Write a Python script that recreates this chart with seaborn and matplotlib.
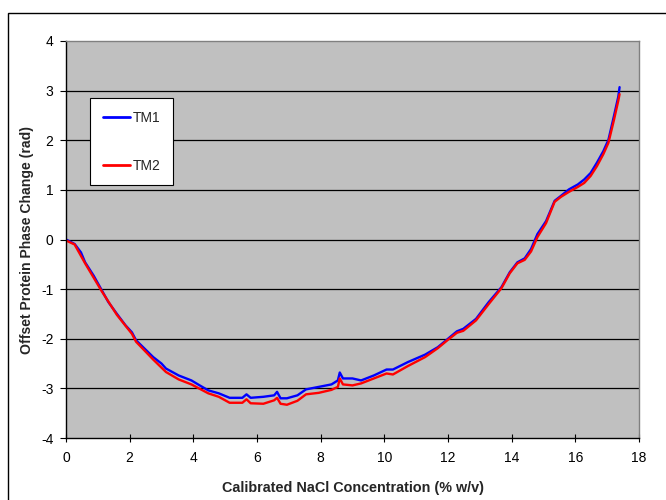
import numpy as np
import pandas as pd
import matplotlib
matplotlib.use("Agg")
import matplotlib.pyplot as plt
from matplotlib.patches import Rectangle
import seaborn as sns

tm1_x = [0, 0.27, 0.47, 0.6, 0.87, 1.13, 1.33, 1.6, 1.87, 2.07, 2.2, 2.47, 2.74, 3.0, 3.14,
         3.54, 3.94, 4.2, 4.47, 4.8, 5.14, 5.54, 5.67, 5.8, 6.2, 6.54, 6.63, 6.74, 6.94, 7.27,
         7.54, 7.94, 8.34, 8.54, 8.6, 8.7, 9.0, 9.27, 9.67, 10.07, 10.27, 10.74, 11.28, 11.68,
         12.0, 12.28, 12.48, 12.88, 13.28, 13.68, 13.94, 14.18, 14.41, 14.61, 14.81, 15.08,
         15.35, 15.55, 15.8, 16.08, 16.28, 16.48, 16.68, 16.88, 17.04, 17.21, 17.35, 17.39]
tm1_y = [0, -0.09, -0.26, -0.46, -0.73, -1.03, -1.26, -1.50, -1.73, -1.87, -2.03, -2.20, -2.37,
         -2.50, -2.60, -2.74, -2.84, -2.94, -3.04, -3.10, -3.19, -3.19, -3.12, -3.19, -3.17,
         -3.14, -3.07, -3.20, -3.20, -3.14, -3.02, -2.97, -2.92, -2.84, -2.68, -2.80, -2.80,
         -2.84, -2.74, -2.62, -2.62, -2.47, -2.32, -2.17, -2.0, -1.85, -1.80, -1.60, -1.26,
         -0.96, -0.66, -0.46, -0.38, -0.19, 0.11, 0.37, 0.78, 0.88, 1.01, 1.11, 1.21, 1.34,
         1.55, 1.78, 2.01, 2.48, 2.88, 3.07]

tm2_x = [0, 0.27, 0.6, 1.13, 1.6, 2.07, 2.2, 2.74, 3.14, 3.54, 3.94, 4.47, 4.8, 5.14, 5.54,
         5.67, 5.8, 6.2, 6.54, 6.63, 6.74, 6.94, 7.27, 7.54, 7.94, 8.34, 8.54, 8.6, 8.7, 9.0,
         9.27, 9.67, 10.07, 10.27, 10.74, 11.28, 11.68, 12.0, 12.28, 12.48, 12.88, 13.28, 13.68,
         13.94, 14.18, 14.41, 14.61, 14.81, 15.08, 15.35, 15.55, 15.8, 16.08, 16.28, 16.48,
         16.68, 16.88, 17.04, 17.21, 17.35, 17.39]
tm2_y = [-0.02, -0.10, -0.48, -1.05, -1.52, -1.90, -2.06, -2.42, -2.67, -2.82, -2.92, -3.10,
         -3.17, -3.29, -3.29, -3.22, -3.30, -3.31, -3.24, -3.19, -3.31, -3.33, -3.25, -3.12,
         -3.09, -3.03, -2.97, -2.80, -2.92, -2.94, -2.90, -2.80, -2.70, -2.72, -2.55, -2.37,
         -2.19, -2.02, -1.88, -1.84, -1.63, -1.30, -0.98, -0.68, -0.48, -0.41, -0.24, 0.05,
         0.33, 0.76, 0.86, 0.96, 1.06, 1.14, 1.28, 1.48, 1.72, 1.95, 2.40, 2.80, 2.93]

series_names = ["TM1", "TM2"]
colors = ["#0000FF", "#FF0000"]
x_ticks = list(range(0, 19, 2))
y_ticks = list(range(-4, 5, 1))

df = pd.concat([
    pd.DataFrame({"x": tm1_x, "y": tm1_y, "series": series_names[0]}),
    pd.DataFrame({"x": tm2_x, "y": tm2_y, "series": series_names[1]}),
], ignore_index=True)

sns.set_theme(style="white")
plt.rcParams["font.family"] = ["Liberation Sans", "DejaVu Sans"]

fig = plt.figure(figsize=(6.66, 5.0), dpi=100)
ax = fig.add_axes([66/666, 1-438/500, (639-66)/666, (438-41)/500])
ax.set_facecolor("#C0C0C0")

sns.lineplot(data=df, x="x", y="y", hue="series", palette=dict(zip(series_names, colors)),
             estimator=None, sort=False, linewidth=1.7, ax=ax)

ax.set_xlim(0, 18)
ax.set_ylim(-4, 4)
ax.set_xticks(x_ticks)
ax.set_yticks(y_ticks)
ax.set_xticklabels([str(t) for t in x_ticks])
ax.set_yticklabels([str(t) for t in y_ticks])
for t in y_ticks[1:-1]:
    ax.axhline(t, color="black", linewidth=0.9, zorder=1)
ax.tick_params(axis="x", direction="inout", length=6, width=0.8, colors="black", labelsize=10, pad=6)
ax.tick_params(axis="y", direction="out", length=4, width=0.8, colors="black", labelsize=10, pad=5)
ax.tick_params(left=True, bottom=True)
for s in ["left", "bottom"]:
    ax.spines[s].set_color("black")
    ax.spines[s].set_linewidth(1.0)
for s in ["top", "right"]:
    ax.spines[s].set_color("#808080")
    ax.spines[s].set_linewidth(1.0)

ax.set_xlabel("Calibrated NaCl Concentration (% w/v)", fontsize=10.4, fontweight="bold", labelpad=12)
ax.set_ylabel("Offset Protein Phase Change (rad)", fontsize=10.1, fontweight="bold", labelpad=5)

leg = ax.legend(loc="upper left", bbox_to_anchor=(0.042, 0.856), frameon=True, fancybox=False,
                fontsize=10, labelspacing=2.45, borderpad=0.9, handlelength=2.0,
                handletextpad=0.2, borderaxespad=0)
leg.get_frame().set_edgecolor("black")
leg.get_frame().set_facecolor("white")
leg.get_frame().set_linewidth(0.8)
leg.get_frame().set_alpha(1)
for line in leg.get_lines():
    line.set_linewidth(2)

fig.patches.append(Rectangle((7.5/666, -0.02), 1.0, 0.02 + 1-12.5/500, transform=fig.transFigure,
                             fill=False, edgecolor="black", linewidth=1.0, clip_on=False))

fig.savefig("out.png", dpi=100, facecolor="white")
